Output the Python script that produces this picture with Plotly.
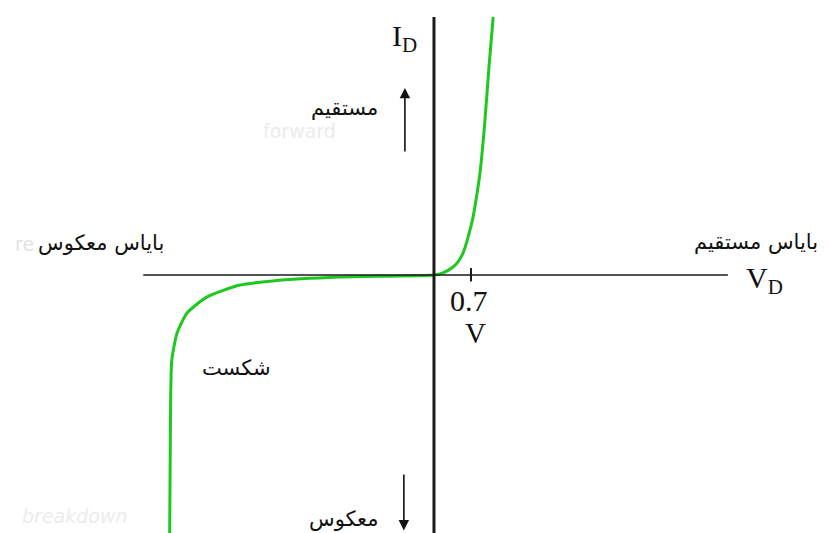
import plotly.graph_objects as go

# Diode I-V characteristic (schematic units: volts, milliamps)
reverse_v = [-5.0, -4.99, -4.98, -4.96, -4.86, -4.67, -4.29, -3.67, -3.05, -1.78, 0.0]
reverse_i = [-10.0, -7.0, -4.57, -3.29, -2.25, -1.47, -0.85, -0.39, -0.23, -0.08, 0.0]
forward_v = [0.0, 0.17, 0.36, 0.45, 0.55, 0.64, 0.74, 0.81, 0.87, 0.96, 1.04, 1.12]
forward_i = [0.0, 0.08, 0.31, 0.5, 0.85, 1.43, 2.25, 3.1, 3.95, 5.89, 8.06, 10.0]

knee_v = 0.7
axis_v = [-5.5, 5.56]
axis_i = [-10.0, 10.0]

curve_v = reverse_v + forward_v[1:]
curve_i = reverse_i + forward_i[1:]

fig = go.Figure()
fig.add_trace(go.Scatter(
    x=curve_v, y=curve_i, mode="lines",
    line=dict(color="#1ec81e", width=3, shape="spline", smoothing=0.6),
    hoverinfo="skip", showlegend=False,
))

shapes = [
    # current axis
    dict(type="line", xref="x", yref="y", x0=0, x1=0, y0=axis_i[0] - 1, y1=axis_i[1],
         line=dict(color="#1a1a1a", width=3)),
    # voltage axis
    dict(type="line", xref="x", yref="y", x0=axis_v[0], x1=axis_v[1], y0=0, y1=0,
         line=dict(color="#1a1a1a", width=1.6)),
    # 0.7 V tick
    dict(type="line", xref="x", yref="y", x0=knee_v, x1=knee_v, y0=-0.25, y1=0.27,
         line=dict(color="#1a1a1a", width=2)),
]

serif = "Liberation Serif, Times New Roman, serif"
sans = "DejaVu Sans, sans-serif"

annotations = [
    dict(x=-0.55, y=9.2, text="I<sub>D</sub>", font=dict(family=serif, size=30, color="#111")),
    dict(x=6.25, y=-0.2, text="V<sub>D</sub>", font=dict(family=serif, size=30, color="#111")),
    dict(x=0.66, y=-1.0, text="0.7", font=dict(family=serif, size=30, color="#111")),
    dict(x=0.79, y=-2.25, text="V", font=dict(family=serif, size=29, color="#111")),
    dict(x=-1.7, y=6.45, text="مستقیم", font=dict(family=sans, size=21, color="#111")),
    dict(x=-6.3, y=1.25, text="بایاس معکوس", font=dict(family=sans, size=21, color="#111")),
    dict(x=6.1, y=1.25, text="بایاس مستقیم", font=dict(family=sans, size=21, color="#111")),
    dict(x=-3.73, y=-3.62, text="شکست", font=dict(family=sans, size=21, color="#111")),
    dict(x=-1.72, y=-9.45, text="معکوس", font=dict(family=sans, size=21, color="#111")),
    # faint leftover labels
    dict(x=-7.75, y=1.2, text="re", font=dict(family=sans, size=19, color="#e2e2e2")),
    dict(x=-2.55, y=5.6, text="forward", font=dict(family=sans, size=19, color="#ececec")),
    dict(x=-6.8, y=-9.35, text="<i>breakdown</i>", font=dict(family=sans, size=19, color="#ececec")),
    # current direction arrows
    dict(x=-0.55, y=7.25, ax=-0.55, ay=4.73, axref="x", ayref="y", text="",
         showarrow=True, arrowhead=2, arrowsize=1.3, arrowwidth=1.6, arrowcolor="#111"),
    dict(x=-0.57, y=-9.9, ax=-0.57, ay=-7.67, axref="x", ayref="y", text="",
         showarrow=True, arrowhead=2, arrowsize=1.3, arrowwidth=1.6, arrowcolor="#111"),
]
for a in annotations:
    a.setdefault("xref", "x")
    a.setdefault("yref", "y")
    a.setdefault("showarrow", False)

fig.update_layout(
    width=828, height=533,
    margin=dict(l=0, r=0, t=0, b=0),
    paper_bgcolor="white", plot_bgcolor="white",
    xaxis=dict(range=[-8.21, 7.454], visible=False, fixedrange=True),
    yaxis=dict(range=[-10.0, 10.659], visible=False, fixedrange=True),
    shapes=shapes, annotations=annotations,
)

fig.write_html("out.html")
